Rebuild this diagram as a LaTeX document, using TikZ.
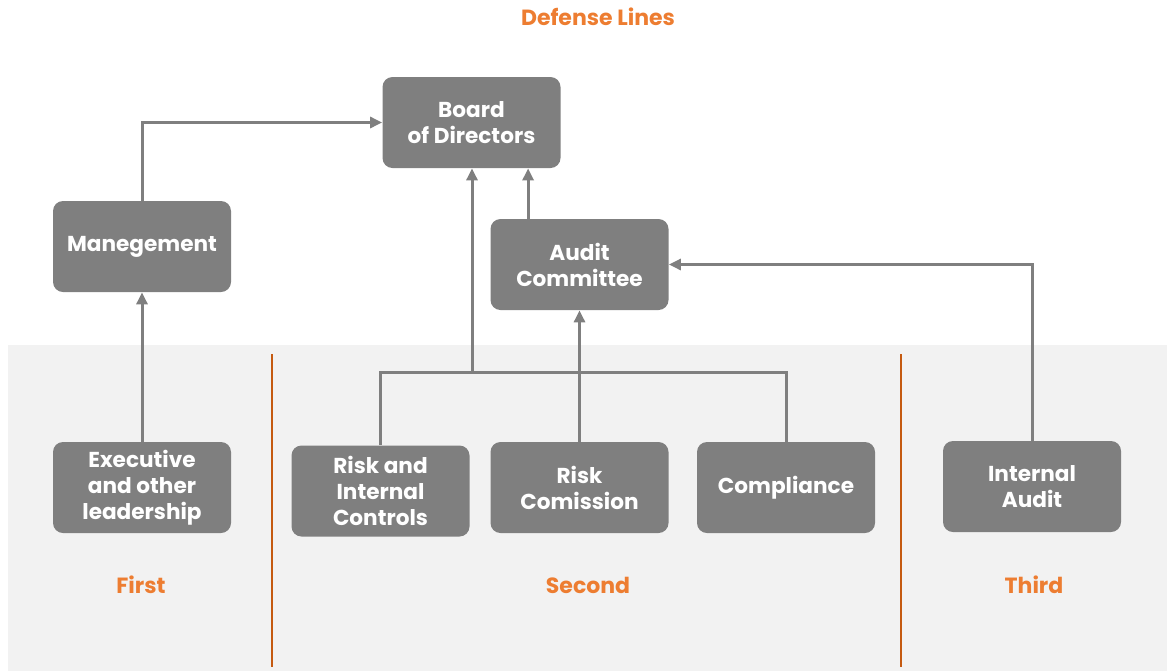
\documentclass[tikz,border=0pt]{standalone}
\usepackage{fontspec}
\setmainfont{Poppins}
\usepackage{tikz}
\usetikzlibrary{arrows.meta}

\definecolor{boxgray}{HTML}{7F7F7F}
\definecolor{bggray}{HTML}{F2F2F2}
\definecolor{lineorange}{HTML}{C55A11}
\definecolor{textorange}{HTML}{ED7D31}

\begin{document}
\begin{tikzpicture}[x=0.5pt,y=-0.5pt,
  unit/.style={fill=boxgray,text=white,rounded corners=5pt,minimum width=89pt,minimum height=45.5pt,
    align=center,font=\fontsize{10.8}{13}\selectfont\bfseries,inner sep=0pt,yshift=-1pt},
  link/.style={draw=boxgray,line width=1.5pt},
  ->/.style={link,-{Triangle[length=6pt,width=5.5pt]}},
  lineslabel/.style={text=textorange,font=\fontsize{11}{13}\selectfont\bfseries}]

\useasboundingbox (0,0) rectangle (1167,671);

% shaded band of the three lines
\fill[bggray] (8,345) rectangle (1167,671);
\draw[lineorange,line width=1.2pt] (272,354) -- (272,667);
\draw[lineorange,line width=1.2pt] (901,354) -- (901,667);

\node[lineslabel] (title) at (598,17) {Defense Lines};

\node[unit] (board) at (471.5,120.5) {Board\\of Directors};
\node[unit] (mgmt) at (142,244.5) {Manegement};
\node[unit] (audit) at (579.5,262.5) {Audit\\Committee};

\node[unit] (exec) at (142,485.5) {Executive\\and other\\leadership};
\node[unit] (riskctrl) at (380.5,489) {Risk and\\Internal\\Controls};
\node[unit] (riskcom) at (579.5,485.5) {Risk\\Comission};
\node[unit] (compl) at (786,485.5) {Compliance};
\node[unit] (intaudit) at (1032,484.5) {Internal\\Audit};

\node[lineslabel] (first) at (141,585) {First};
\node[lineslabel] (second) at (588,585) {Second};
\node[lineslabel] (third) at (1034,585) {Third};

% connectors
\draw[->] (mgmt.north) |- (board.west);
\draw[->] (exec.north) -- (mgmt.south);
\coordinate (bus) at (472,372);
\draw[link] (riskctrl.north) |- (bus) -| (compl.north);
\draw[->] (bus) -- (bus |- board.south);
\draw[->] (riskcom.north) -- (audit.south);
\draw[->] ([xshift=19pt]audit.north west) coordinate (up) -- (up |- board.south);
\draw[->] (intaudit.north) |- (audit.east);

\end{tikzpicture}
\end{document}
